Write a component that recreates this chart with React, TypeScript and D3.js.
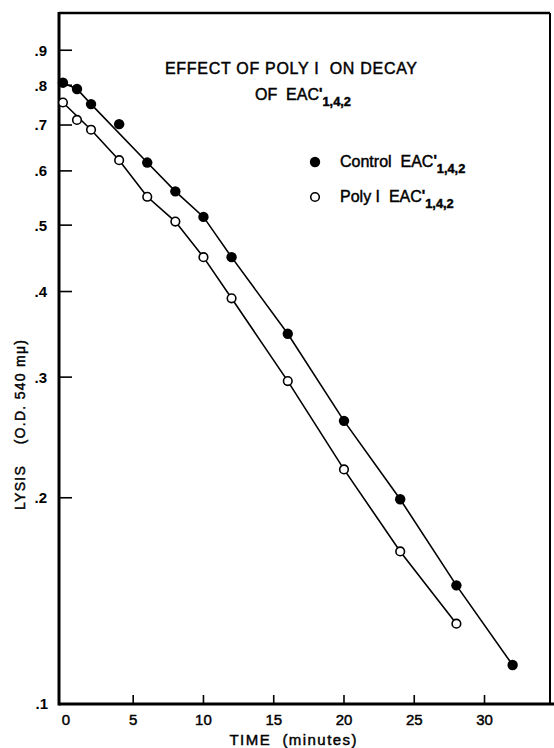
import React from "react";
import * as d3 from "d3";

const controlTimes = [0, 1, 2, 4, 6, 8, 10, 12, 16, 20, 24, 28, 32];
const controlValues = [0.807, 0.79, 0.751, 0.702, 0.617, 0.56, 0.514, 0.449, 0.347, 0.259, 0.199, 0.149, 0.114];
const polyTimes = [0, 1, 2, 4, 6, 8, 10, 12, 16, 20, 24, 28];
const polyValues = [0.755, 0.712, 0.689, 0.622, 0.55, 0.506, 0.449, 0.391, 0.296, 0.22, 0.167, 0.131];

// fitted (hand-drawn) lines
const controlFitTimes = [0, 1, 2, 6, 8, 10, 12, 16, 20, 24, 28, 32];
const controlFitValues = [0.807, 0.79, 0.751, 0.617, 0.56, 0.514, 0.449, 0.347, 0.259, 0.199, 0.149, 0.114];
const polyFitTimes = [0, 2, 4, 6, 8, 10, 12, 16, 20, 24, 28];
const polyFitValues = [0.755, 0.689, 0.622, 0.55, 0.506, 0.449, 0.391, 0.296, 0.22, 0.167, 0.131];

const yTicks = [0.9, 0.8, 0.7, 0.6, 0.5, 0.4, 0.3, 0.2];
const yTickLabels = [".9", ".8", ".7", ".6", ".5", ".4", ".3", ".2"];
const xTicks = [5, 10, 15, 20, 25, 30];
const xTickLabels = ["0", "5", "10", "15", "20", "25", "30"];
const xLabelValues = [0, 5, 10, 15, 20, 25, 30];

const L = 59, R = 550, T = 13, B = 704;
const FONT = "'Liberation Sans', Arial, sans-serif";
const heavy = { stroke: "#000", strokeWidth: 0.45 };

export default function App() {
  const x = d3.scaleLinear().domain([-0.28, 34.66]).range([L, R]);
  const y = d3.scaleLog().domain([0.1, 1.02]).range([B, T]);
  const line = d3
    .line<[number, number]>()
    .x((d) => x(d[0]))
    .y((d) => y(d[1]));
  const cFit = controlFitTimes.map((t, i) => [t, controlFitValues[i]] as [number, number]);
  const pFit = polyFitTimes.map((t, i) => [t, polyFitValues[i]] as [number, number]);

  const sub = (txt: string, size: number) => (
    <>
      <tspan dy={-2} fontSize={size * 0.9} fontWeight="bold">'</tspan>
      <tspan dy={8} fontSize={size * 0.8} fontWeight="bold">{txt}</tspan>
    </>
  );

  return (
    <svg
      width={554}
      height={748}
      style={{ position: "absolute", left: 0, top: 0, background: "#fff" }}
      fontFamily={FONT}
    >
      <rect x={0} y={0} width={554} height={748} fill="#fff" />
      {/* frame */}
      <line x1={L} y1={T} x2={R} y2={T} stroke="#000" strokeWidth={2.5} />
      <line x1={R} y1={T} x2={R} y2={B} stroke="#000" strokeWidth={2} />
      <line x1={L} y1={T - 1} x2={L} y2={B + 1.5} stroke="#000" strokeWidth={3} />
      <line x1={L} y1={B} x2={554} y2={B} stroke="#000" strokeWidth={3} />

      {/* y ticks */}
      {yTicks.map((v, i) => (
        <g key={"yt" + i}>
          <line x1={L} x2={L + 13} y1={y(v)} y2={y(v)} stroke="#000" strokeWidth={1.6} />
          <text x={47} y={y(v)} dy="0.36em" textAnchor="end" fontSize={15} fontWeight="bold">
            {yTickLabels[i]}
          </text>
        </g>
      ))}
      <text x={48} y={y(0.1)} dy="0.36em" textAnchor="end" fontSize={15} fontWeight="bold">.1</text>

      {/* x ticks */}
      {xTicks.map((v, i) => (
        <line key={"xt" + i} x1={x(v)} x2={x(v)} y1={B} y2={B - 9} stroke="#000" strokeWidth={1.6} />
      ))}
      {xLabelValues.map((v, i) => (
        <text key={"xl" + i} x={x(v) + (v === 0 ? 3 : 0)} y={725} textAnchor="middle" fontSize={15} {...heavy}>
          {xTickLabels[i]}
        </text>
      ))}
      <text x={293} y={745} textAnchor="middle" fontSize={15} textLength={127} lengthAdjust="spacing" {...heavy}>
        TIME{"\u00a0\u00a0"}(minutes)
      </text>

      {/* y label */}
      <text
        transform="translate(25,425) rotate(-90)"
        textAnchor="middle"
        fontSize={14}
        textLength={170}
        lengthAdjust="spacing"
        {...heavy}
      >
        LYSIS{"\u00a0\u00a0\u00a0\u00a0"}(O.D.{"\u00a0"}540{"\u00a0"}mμ)
      </text>

      {/* title */}
      <text x={165} y={74} fontSize={16} textLength={252} lengthAdjust="spacing" {...heavy}>
        EFFECT OF POLY I{"\u00a0\u00a0"}ON DECAY
      </text>
      <text x={255} y={100} fontSize={16} {...heavy}>
        OF{"\u00a0\u00a0"}EAC{sub("1,4,2", 16)}
      </text>

      {/* fitted lines */}
      <path d={line(cFit) || ""} fill="none" stroke="#000" strokeWidth={1.6} />
      <path d={line(pFit) || ""} fill="none" stroke="#000" strokeWidth={1.6} />

      {/* points */}
      {polyTimes.map((t, i) => (
        <circle key={"p" + i} cx={x(t)} cy={y(polyValues[i])} r={4.3} fill="#fff" stroke="#000" strokeWidth={1.6} />
      ))}
      {controlTimes.map((t, i) => (
        <circle key={"c" + i} cx={x(t)} cy={y(controlValues[i])} r={5.2} fill="#000" />
      ))}

      {/* legend */}
      <circle cx={315} cy={162} r={5.2} fill="#000" />
      <text x={340} y={167} fontSize={16} {...heavy}>
        Control{"\u00a0\u00a0"}EAC{sub("1,4,2", 16)}
      </text>
      <circle cx={315} cy={197} r={4.3} fill="#fff" stroke="#000" strokeWidth={1.6} />
      <text x={340} y={202} fontSize={16} {...heavy}>
        Poly I{"\u00a0\u00a0"}EAC{sub("1,4,2", 16)}
      </text>
    </svg>
  );
}
